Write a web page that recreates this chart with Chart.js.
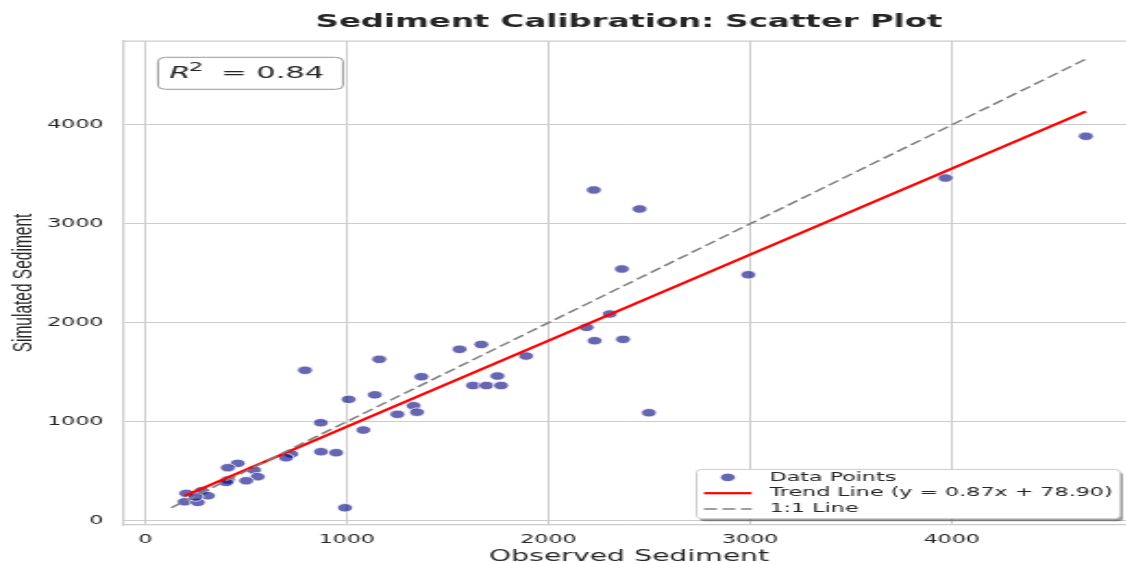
<!DOCTYPE html>
<html>
<head>
<meta charset="utf-8">
<script src="https://cdn.jsdelivr.net/npm/chart.js@4/dist/chart.umd.min.js"></script>
<style>
  html, body { margin: 0; padding: 0; width: 1126px; height: 563px; overflow: hidden; background: #ffffff; }
  /* the figure is laid out at a narrow width and widened to the page */
  #wrap { position: absolute; left: 0; top: 0; width: 620px; height: 563px; transform: scaleX(1.85); transform-origin: 0 0; }
</style>
</head>
<body>
<div id="wrap"><canvas id="chart"></canvas></div>
<script>
// Observed vs. simulated sediment for each calibration record
const observed = [4665, 3969, 2225, 2452, 2364, 2991, 2304, 2189, 2229, 2370,
                  1889, 2498, 1559, 1667, 1161, 793, 1370, 1747, 1626, 1692,
                  1765, 1139, 1009, 1331, 1348, 1251, 871, 1082, 872, 947,
                  991, 724, 699, 459, 410, 539, 558, 501, 410, 402,
                  204, 281, 311, 196, 261, 250];
const simulated = [3885, 3463, 3342, 3150, 2543, 2485, 2088, 1953, 1818, 1832,
                   1663, 1090, 1731, 1780, 1630, 1519, 1454, 1461, 1365, 1365,
                   1365, 1271, 1225, 1161, 1095, 1074, 989, 915, 696, 686,
                   129, 672, 635, 578, 534, 511, 443, 402, 410, 386,
                   275, 301, 251, 190, 184, 238];

// Linear fit of simulated on observed, and its goodness of fit
const trendSlope = 0.87;
const trendIntercept = 78.90;
const rSquared = 0.84;

// Axis ticks and extents
const xTicks = [0, 1000, 2000, 3000, 4000];
const yTicks = [0, 1000, 2000, 3000, 4000];
const xRange = [-105, 4904];
const yRange = [-45, 4848];

const TEXT = '#262626';
const GRID = '#cccccc';

const points = observed.map((x, i) => ({ x: x, y: simulated[i] }));
const obsMin = Math.min(...observed);
const obsMax = Math.max(...observed);
const lineMin = Math.min(obsMin, Math.min(...simulated));
const trendAt = x => trendSlope * x + trendIntercept;

function roundRectPath(ctx, x, y, w, h, r) {
  ctx.beginPath();
  ctx.moveTo(x + r, y);
  ctx.lineTo(x + w - r, y);
  ctx.quadraticCurveTo(x + w, y, x + w, y + r);
  ctx.lineTo(x + w, y + h - r);
  ctx.quadraticCurveTo(x + w, y + h, x + w - r, y + h);
  ctx.lineTo(x + r, y + h);
  ctx.quadraticCurveTo(x, y + h, x, y + h - r);
  ctx.lineTo(x, y + r);
  ctx.quadraticCurveTo(x, y, x + r, y);
  ctx.closePath();
}

// R² annotation in the upper-left corner of the plot
function drawRSquared(chart) {
  const { ctx, chartArea: a } = chart;
  const left = a.left + 18.4, top = a.top + 16.3, w = 100, h = 32;
  ctx.save();
  roundRectPath(ctx, left, top, w, h, 4);
  ctx.fillStyle = '#ffffff';
  ctx.fill();
  ctx.strokeStyle = '#999999';
  ctx.lineWidth = 1;
  ctx.stroke();
  const base = top + 20.4;
  ctx.fillStyle = TEXT;
  ctx.textAlign = 'left';
  ctx.textBaseline = 'alphabetic';
  ctx.font = 'italic 16.5px "DejaVu Sans"';
  ctx.fillText('R', left + 6, base);
  ctx.font = '12.5px "DejaVu Sans"';
  ctx.fillText('2', left + 16.6, base - 6.8);
  ctx.font = '16.5px "DejaVu Sans"';
  ctx.fillText('=', left + 34, base);
  ctx.fillText(rSquared.toFixed(2), left + 53, base);
  ctx.restore();
}

// Boxed legend with a drop shadow, lower-right corner of the plot
function drawLegendBox(chart) {
  const { ctx, chartArea: a } = chart;
  const sets = chart.data.datasets;
  ctx.save();
  ctx.font = '12px "DejaVu Sans"';
  const textW = Math.max(...sets.map(d => ctx.measureText(d.label).width));
  const padX = 4, handleW = 25.8, gap = 9.6, rowH = 15.8, padTop = 8, padBottom = 9.7;
  const w = padX + handleW + gap + textW + padX;
  const h = padTop + rowH * (sets.length - 1) + padBottom;
  const right = a.right - 7.6, bottom = a.bottom - 6.3;
  const left = right - w, top = bottom - h;

  roundRectPath(ctx, left + 1.6, top + 2.5, w, h, 3);
  ctx.fillStyle = 'rgba(0,0,0,0.4)';
  ctx.fill();
  roundRectPath(ctx, left, top, w, h, 3);
  ctx.fillStyle = '#ffffff';
  ctx.fill();
  ctx.strokeStyle = GRID;
  ctx.lineWidth = 1;
  ctx.stroke();

  sets.forEach((d, i) => {
    const cy = top + padTop + i * rowH;
    const hx = left + padX;
    ctx.save();
    if (d.type === 'scatter') {
      ctx.beginPath();
      ctx.arc(hx + handleW / 2, cy, d.pointRadius, 0, Math.PI * 2);
      ctx.fillStyle = d.backgroundColor;
      ctx.fill();
      ctx.strokeStyle = d.borderColor;
      ctx.lineWidth = d.borderWidth;
      ctx.stroke();
    } else {
      ctx.beginPath();
      ctx.setLineDash(d.borderDash || []);
      ctx.moveTo(hx, cy);
      ctx.lineTo(hx + handleW, cy);
      ctx.strokeStyle = d.borderColor;
      ctx.lineWidth = d.borderWidth;
      ctx.stroke();
    }
    ctx.restore();
    ctx.fillStyle = TEXT;
    ctx.textAlign = 'left';
    ctx.textBaseline = 'middle';
    ctx.fillText(d.label, hx + handleW + gap, cy);
  });
  ctx.restore();
}

const decorations = {
  id: 'decorations',
  afterDatasetsDraw(chart) {
    const { ctx, chartArea: a } = chart;
    ctx.save();
    ctx.strokeStyle = GRID;
    ctx.lineWidth = 1.25;
    ctx.beginPath();
    ctx.moveTo(a.left, a.top);
    ctx.lineTo(a.right, a.top);
    ctx.lineTo(a.right, a.bottom);
    ctx.stroke();
    ctx.restore();
  },
  afterDraw(chart) {
    drawRSquared(chart);
    drawLegendBox(chart);
  }
};

new Chart(document.getElementById('chart'), {
  type: 'scatter',
  data: {
    datasets: [
      {
        type: 'scatter',
        label: 'Data Points',
        data: points,
        backgroundColor: 'rgba(0,0,128,0.6)',
        borderColor: '#ffffff',
        borderWidth: 0.8,
        pointRadius: 4.2,
        pointHoverRadius: 4.2,
        order: 3
      },
      {
        type: 'line',
        label: `Trend Line (y = ${trendSlope.toFixed(2)}x + ${trendIntercept.toFixed(2)})`,
        data: [{ x: obsMin, y: trendAt(obsMin) }, { x: obsMax, y: trendAt(obsMax) }],
        borderColor: '#ff0000',
        borderWidth: 2.2,
        pointRadius: 0,
        fill: false,
        tension: 0,
        order: 2
      },
      {
        type: 'line',
        label: '1:1 Line',
        data: [{ x: lineMin, y: lineMin }, { x: obsMax, y: obsMax }],
        borderColor: '#808080',
        borderWidth: 1.5,
        borderDash: [7, 3],
        pointRadius: 0,
        fill: false,
        tension: 0,
        order: 1
      }
    ]
  },
  options: {
    responsive: true,
    maintainAspectRatio: false,
    animation: false,
    events: [],
    layout: { padding: { top: 0, right: 7, bottom: 0, left: 0 } },
    plugins: {
      legend: { display: false },
      tooltip: { enabled: false },
      title: {
        display: true,
        fullSize: false,
        text: 'Sediment Calibration: Scatter Plot',
        color: TEXT,
        font: { family: 'DejaVu Sans', size: 17.5, weight: 'bold', lineHeight: 1.2 },
        padding: { top: 12, bottom: 8 }
      }
    },
    scales: {
      x: {
        type: 'linear',
        min: xRange[0],
        max: xRange[1],
        afterBuildTicks: s => { s.ticks = xTicks.map(v => ({ value: v })); },
        afterFit: s => { s.height = 38; },
        grid: { color: GRID, lineWidth: 1, drawTicks: false },
        border: { color: GRID, width: 1.25 },
        ticks: {
          padding: 8, color: TEXT, maxRotation: 0, autoSkip: false,
          font: { family: 'DejaVu Sans', size: 12 },
          callback: v => String(v)
        },
        title: {
          display: true, text: 'Observed Sediment', color: TEXT,
          font: { family: 'DejaVu Sans', size: 15.3, lineHeight: 0.75 },
          padding: { top: 0, bottom: 0 }
        }
      },
      y: {
        type: 'linear',
        min: yRange[0],
        max: yRange[1],
        afterBuildTicks: s => { s.ticks = yTicks.map(v => ({ value: v })); },
        afterFit: s => { s.width = 67; },
        grid: { color: GRID, lineWidth: 1, drawTicks: false },
        border: { color: GRID, width: 1.25 },
        ticks: {
          padding: 11, color: TEXT, autoSkip: false,
          font: { family: 'DejaVu Sans', size: 12 },
          callback: v => String(v)
        },
        title: {
          display: true, text: 'Simulated Sediment', color: TEXT,
          font: { family: 'Liberation Sans', size: 15.5, lineHeight: 1 },
          padding: { top: 5, bottom: 0 }
        }
      }
    }
  },
  plugins: [decorations]
});
</script>
</body>
</html>
